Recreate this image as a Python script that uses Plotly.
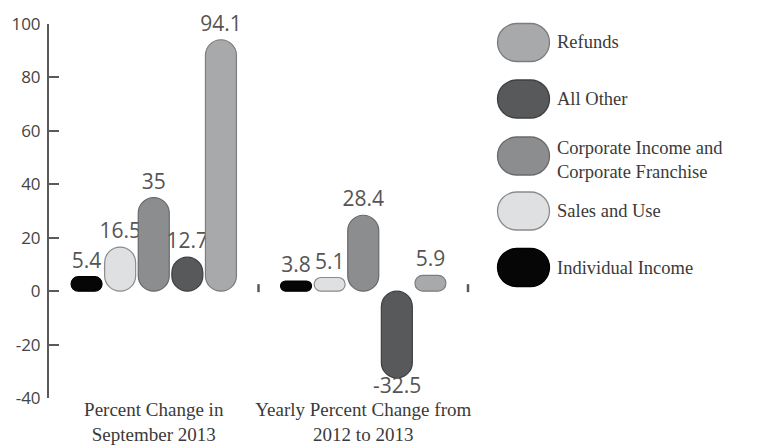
import plotly.graph_objects as go

# ---------------- data ----------------
categories = ["Percent Change in<br>September 2013", "Yearly Percent Change from<br>2012 to 2013"]
series_names = ["Individual Income", "Sales and Use", "Corporate Income and<br>Corporate Franchise",
                "All Other", "Refunds"]
individual_income = [5.4, 3.8]
sales_and_use = [16.5, 5.1]
corporate_income_franchise = [35, 28.4]
all_other = [12.7, -32.5]
refunds = [94.1, 5.9]
y_ticks = [-40, -20, 0, 20, 40, 60, 80, 100]
y_range = [-40, 100]

series_values = [individual_income, sales_and_use, corporate_income_franchise, all_other, refunds]

# ---------------- style ----------------
fills = ["#060606", "#dfe0e2", "#8c8d8f", "#58595b", "#a8a9ab"]
outlines = ["#000000", "#8a8b8d", "#68696b", "#3e3f41", "#7b7c7e"]

W, H = 762, 446
ML, MR, MT, MB = 49, 294, 24, 48
plot_w = W - ML - MR
plot_h = H - MT - MB
px_per_cat = plot_w / 2.0

slot = 33.6 / px_per_cat
bar_w = 31.0 / px_per_cat

NUM_FONT = "Open Sans, Liberation Sans, sans-serif"
SERIF = "Liberation Serif, Times New Roman, serif"
LABEL_FONT = dict(family=NUM_FONT, size=21, color="#555555")

fig = go.Figure()
annotations = []
n = len(series_values)
for i, vals in enumerate(series_values):
    center = (i - (n - 1) / 2.0) * slot
    pos_labels = [f"{v:g}" if v >= 0 else "" for v in vals]
    # explicit base -> plotly rounds both ends of the bar (pill shape)
    fig.add_trace(go.Bar(
        x=categories, y=vals, base=[0] * len(vals),
        width=bar_w, offset=center - bar_w / 2,
        marker=dict(color=fills[i], line=dict(color=outlines[i], width=1.2), cornerradius="50%"),
        text=pos_labels, textposition="outside", textangle=0, constraintext="none",
        outsidetextfont=LABEL_FONT, cliponaxis=False,
        name=series_names[i].replace("<br>", " "), showlegend=False, hoverinfo="skip"))
    for c, v in zip(categories, vals):
        if v < 0:
            annotations.append(dict(x=c, y=v, xref="x", yref="y", xshift=center * px_per_cat, yshift=9,
                                    yanchor="top", xanchor="center", showarrow=False,
                                    text=f"{v:g}", font=LABEL_FONT))


def pill_path(w, h):
    hw, hh = w / 2.0, h / 2.0
    k = 0.5523 * hh
    a = hw - hh
    return (f"M {-a},{-hh} L {a},{-hh} C {a + k},{-hh} {hw},{-k} {hw},0 "
            f"C {hw},{k} {a + k},{hh} {a},{hh} L {-a},{hh} C {-a - k},{hh} {-hw},{k} {-hw},0 "
            f"C {-hw},{-k} {-a - k},{-hh} {-a},{-hh} Z")


shapes = []
# small category-boundary tick marks on the zero line
for xd in (0.5, 1.0):
    shapes.append(dict(type="line", xref="x domain", yref="y", ysizemode="pixel", yanchor=0,
                       x0=xd, x1=xd, y0=-1, y1=7, line=dict(color="#5a5a5a", width=2.5), layer="above"))

# legend (top to bottom: reversed series order)
legend_centers_px = [42.5, 99, 156, 211, 267.5]
legend_sym_x_px = 523.5
legend_text_x_px = 555
for j, i in enumerate(reversed(range(n))):
    cy = (H - MB - legend_centers_px[j]) / plot_h
    cx = (legend_sym_x_px - ML) / plot_w
    shapes.append(dict(type="path", xref="paper", yref="paper", xsizemode="pixel", ysizemode="pixel",
                       xanchor=cx, yanchor=cy, path=pill_path(52, 38),
                       fillcolor=fills[i], line=dict(color=outlines[i], width=1.3), layer="above"))
    ty = cy if i != 2 else (H - MB - 160) / plot_h
    annotations.append(dict(xref="paper", yref="paper", x=(legend_text_x_px - ML) / plot_w, y=ty,
                            xanchor="left", yanchor="middle", showarrow=False, align="left",
                            text=series_names[i], font=dict(family=SERIF, size=18.5, color="#3a3a3a")))

fig.update_layout(
    template="none",
    width=W, height=H,
    margin=dict(l=ML, r=MR, t=MT, b=MB, pad=0, autoexpand=False),
    paper_bgcolor="white", plot_bgcolor="white",
    barmode="overlay",
    showlegend=False,
    shapes=shapes,
    annotations=annotations,
    xaxis=dict(type="category", range=[-0.5, 1.5], showline=False, ticks="", showgrid=False,
               zeroline=False, automargin=False, ticklabelstandoff=-2,
               tickfont=dict(family=SERIF, size=19, color="#3a3a3a")),
    yaxis=dict(range=y_range, tickvals=y_ticks, ticktext=[str(t) for t in y_ticks],
               showline=True, linecolor="#5a5a5a", linewidth=2,
               ticks="inside", ticklen=10, tickwidth=2, tickcolor="#5a5a5a",
               showgrid=False, zeroline=False, automargin=False, ticklabelstandoff=3,
               tickfont=dict(family=NUM_FONT, size=17, color="#444444")),
)

fig.write_html("out.html", config={"displayModeBar": False},
               post_script="document.body.style.margin='0px';document.body.style.overflow='hidden';")
